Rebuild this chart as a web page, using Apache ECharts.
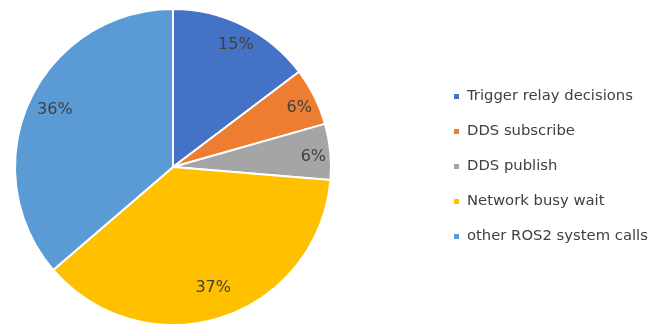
<!DOCTYPE html>
<html><head><meta charset="utf-8">
<script src="https://cdn.jsdelivr.net/npm/echarts@6/dist/echarts.min.js"></script>
<style>html,body{margin:0;padding:0;background:#fff}#c{width:659px;height:326px}</style>
</head><body><div id="c"></div>
<script>
const categories = ["Trigger relay decisions","DDS subscribe","DDS publish","Network busy wait","other ROS2 system calls"];
const values = [14.7, 5.9, 5.7, 37.4, 36.3];
const colors = ["#4472C4","#ED7D31","#A5A5A5","#FFC000","#5B9BD5"];
const font = "DejaVu Sans";
const data = categories.map((n,i)=>({name:n,value:values[i],itemStyle:{color:colors[i]}}));
function labelSeries(radius, big, dy){
  return {type:'pie', center:[173,167], radius:radius, startAngle:90, clockwise:true,
     itemStyle:{color:'transparent'}, silent:true, legendHoverLink:false,
     label:{show:true, position:'inside', fontFamily:font, fontSize:16, color:'#404040', offset:[0,dy],
       formatter:p=>((p.percent>25)===big ? Math.round(p.percent)+'%' : '')},
     labelLine:{show:false},
     data:categories.map((n,i)=>({name:n+(big?'  ':' '),value:values[i],itemStyle:{color:'transparent'}}))};
}
const chart = echarts.init(document.getElementById('c'));
chart.setOption({
  animation:false,
  legend:{
    orient:'vertical', left:447, top:84,
    itemWidth:7, itemHeight:7, itemGap:20, icon:'rect',
    textStyle:{fontFamily:font,fontSize:14.8,color:'#404040',padding:[0,0,0,2]},
    data:categories
  },
  series:[
    {type:'pie', center:[173,167], radius:158, startAngle:90, clockwise:true,
     itemStyle:{borderColor:'#fff',borderWidth:2},
     label:{show:false}, labelLine:{show:false}, silent:true, data:data},
    labelSeries([126,150], false, 4),
    labelSeries([114,140], true, -3)
  ]
});
</script></body></html>
